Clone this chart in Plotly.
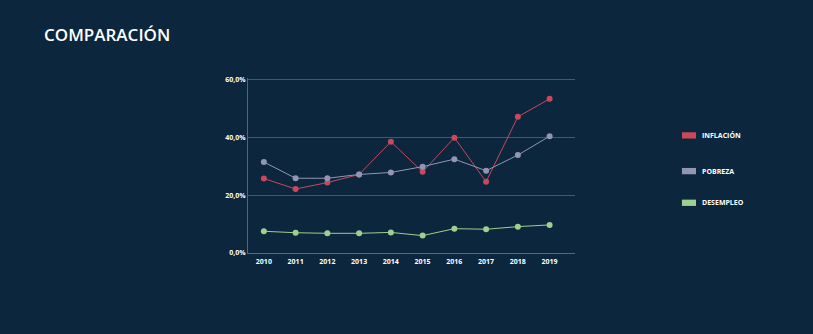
import plotly.graph_objects as go

years = [2010, 2011, 2012, 2013, 2014, 2015, 2016, 2017, 2018, 2019]
inflacion = [25.7, 22.1, 24.3, 27.1, 38.4, 28.0, 39.8, 24.6, 47.0, 53.2]
pobreza = [31.4, 25.8, 25.8, 27.1, 27.8, 29.8, 32.4, 28.4, 33.8, 40.3]
desempleo = [7.5, 7.0, 6.8, 6.8, 7.1, 6.0, 8.4, 8.2, 9.1, 9.7]
names = ["INFLACIÓN", "POBREZA", "DESEMPLEO"]
colors = ["#c9485b", "#9396b3", "#9fcf8f"]
y_ticks = [0, 20, 40, 60]
y_labels = ["0,0%", "20,0%", "40,0%", "60,0%"]

bg = "#0c263d"
font = "Open Sans"

fig = go.Figure()
for name, vals, col in zip(names, [inflacion, pobreza, desempleo], colors):
    fig.add_trace(go.Scatter(
        x=years, y=vals, name=name, mode="lines+markers",
        line=dict(color=col, width=1),
        marker=dict(color=col, size=6),
        showlegend=False,
    ))

# custom legend
legend_y = [0.672, 0.468, 0.287]
for name, col, ly in zip(names, colors, legend_y):
    fig.add_shape(type="rect", xref="paper", yref="paper",
                  x0=1.327, x1=1.370, y0=ly - 0.018, y1=ly + 0.018,
                  fillcolor=col, line=dict(width=0))
    fig.add_annotation(x=1.383, y=ly, xref="paper", yref="paper",
                       text="<b>" + name + "</b>", showarrow=False,
                       xanchor="left", yanchor="middle",
                       font=dict(family=font, size=7, color="#ffffff"))

fig.update_layout(
    width=813, height=334,
    paper_bgcolor=bg, plot_bgcolor=bg,
    margin=dict(l=248, r=238, t=78, b=81),
    title=dict(text="COMPARACIÓN", x=44 / 813, xanchor="left",
               y=1 - 35 / 334, yanchor="middle",
               font=dict(family=font, size=17, color="#ffffff", weight=600)),
    xaxis=dict(range=[2009.5, 2019.8], tickvals=years,
               ticktext=["<b>%d</b>" % y for y in years],
               showgrid=False, zeroline=False,
               showline=True, linecolor="#2f7a8a", linewidth=1,
               tickfont=dict(family=font, size=7, color="#ffffff"),
               ticks="", ticklabelstandoff=2),
    yaxis=dict(range=[0, 60.4], tickvals=y_ticks,
               ticktext=["<b>%s</b>" % t for t in y_labels],
               showgrid=True, gridcolor="#36606f", gridwidth=1,
               zeroline=False, showline=True, linecolor="#3a6f7e", linewidth=1,
               tickfont=dict(family=font, size=7, color="#ffffff"),
               ticks=""),
    font=dict(family=font, color="#ffffff"),
)

fig.write_html("out.html")
